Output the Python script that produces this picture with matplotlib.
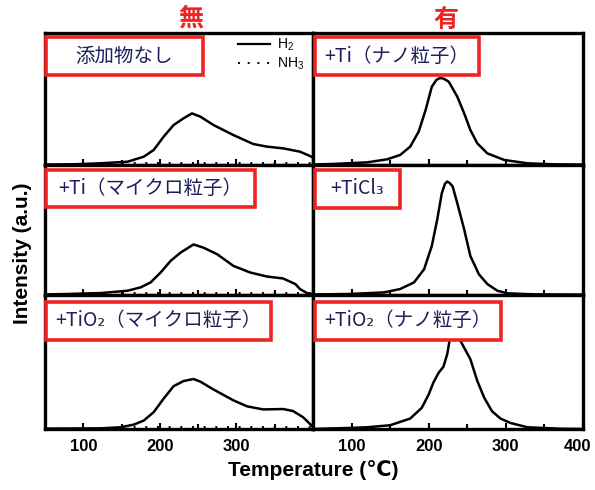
import matplotlib
matplotlib.use("Agg")
import matplotlib.pyplot as plt
from matplotlib.patches import Rectangle
from matplotlib.lines import Line2D
import matplotlib.transforms as mtransforms

# ---------------- data ----------------
col_titles = ["無", "有"]
panel_labels = [["添加物なし", "+Ti（ナノ粒子）"],
                ["+Ti（マイクロ粒子）", "+TiCl₃"],
                ["+TiO₂（マイクロ粒子）", "+TiO₂（ナノ粒子）"]]

# row 1 left: no additive
t_r1l = [50, 90, 123, 158, 179, 192, 205, 218, 231, 242, 253, 270, 296, 322, 340, 361, 383, 398, 400]
h_r1l = [0.003, 0.006, 0.013, 0.025, 0.063, 0.114, 0.215, 0.303, 0.354, 0.391, 0.366, 0.303, 0.227, 0.159, 0.139, 0.126, 0.101, 0.063, 0.055]
# row 1 right: +Ti nano
t_r1r = [50, 76, 120, 146, 163, 176, 187, 196, 204, 210, 215, 220, 226, 237, 246, 254, 263, 276, 298, 328, 363, 400]
h_r1r = [0.004, 0.008, 0.020, 0.043, 0.076, 0.139, 0.253, 0.417, 0.593, 0.645, 0.660, 0.652, 0.631, 0.518, 0.391, 0.265, 0.164, 0.088, 0.038, 0.013, 0.005, 0.003]
# row 2 left: +Ti micro
t_r2l = [50, 80, 123, 158, 175, 188, 201, 214, 227, 244, 257, 275, 296, 318, 340, 361, 377, 383, 392, 398, 400]
h_r2l = [0.004, 0.008, 0.015, 0.033, 0.059, 0.097, 0.173, 0.262, 0.326, 0.389, 0.364, 0.313, 0.224, 0.173, 0.142, 0.127, 0.084, 0.046, 0.015, 0.008, 0.008]
# row 2 right: +TiCl3
t_r2r = [50, 98, 142, 163, 181, 194, 204, 211, 217, 221, 224, 227, 231, 237, 246, 254, 265, 276, 289, 302, 337, 400]
h_r2r = [0.004, 0.008, 0.020, 0.046, 0.097, 0.198, 0.377, 0.580, 0.784, 0.855, 0.873, 0.862, 0.835, 0.707, 0.504, 0.300, 0.160, 0.084, 0.033, 0.013, 0.005, 0.003]
# row 3 left: +TiO2 micro
t_r3l = [50, 123, 149, 166, 179, 192, 205, 218, 231, 244, 253, 270, 296, 314, 335, 361, 374, 387, 396, 400]
h_r3l = [0.003, 0.005, 0.013, 0.033, 0.063, 0.126, 0.227, 0.320, 0.358, 0.373, 0.353, 0.295, 0.214, 0.169, 0.146, 0.149, 0.134, 0.088, 0.038, 0.015]
# row 3 right: +TiO2 nano
t_r3r = [50, 59, 98, 120, 150, 176, 191, 200, 206, 213, 219, 224, 227, 231, 234, 237, 241, 254, 263, 272, 282, 293, 306, 328, 371, 400]
h_r3r = [0.0, 0.002, 0.008, 0.013, 0.028, 0.078, 0.158, 0.258, 0.346, 0.421, 0.464, 0.559, 0.659, 0.705, 0.720, 0.705, 0.659, 0.521, 0.358, 0.233, 0.133, 0.078, 0.045, 0.013, 0.002, 0.0]

# NH3 (flat at baseline)
t_nh3 = [150, 400]
h_nh3 = [0.018, 0.018]

curves = [[(t_r1l, h_r1l), (t_r1r, h_r1r)],
          [(t_r2l, h_r2l), (t_r2r, h_r2r)],
          [(t_r3l, h_r3l), (t_r3r, h_r3r)]]

xticks_major = [100, 200, 300, 400]
xticks_minor = [50, 150, 250, 350]

# ---------------- style ----------------
W, H = 595, 490
fig = plt.figure(figsize=(W / 100, H / 100), dpi=100)
plt.rcParams['font.family'] = ['Liberation Sans', 'DejaVu Sans']
plt.rcParams['mathtext.default'] = 'regular'

RED = '#ee2424'
NAVY = '#1f1f5c'

def fig_rect(px0, py0, px1, py1):
    return [px0 / W, 1 - py1 / H, (px1 - px0) / W, (py1 - py0) / H]

col_x = [(45, 313), (313, 583)]
row_y = [(33, 165), (165, 295), (295, 429)]

axes = []
for r in range(3):
    for c in range(2):
        ax = fig.add_axes(fig_rect(col_x[c][0], row_y[r][0], col_x[c][1], row_y[r][1]))
        t, h = curves[r][c]
        ax.plot(t, h, color='black', lw=1.8, solid_joinstyle='round')
        if c == 0:
            ax.plot(t_nh3, h_nh3, color='black', lw=1.4, linestyle=(0, (1, 5)))
        ax.set_xlim(50, 400)
        ax.set_ylim(0, 1)
        ax.set_yticks([])
        ax.set_xticks(xticks_major)
        ax.set_xticks(xticks_minor, minor=True)
        ax.tick_params(axis='x', which='both', direction='in', length=4.5, width=1.5,
                       pad=7, labelsize=12)
        ax.tick_params(axis='x', which='minor', length=3.5)
        for s in ax.spines.values():
            s.set_linewidth(2.4)
            s.set_color('black')
        if r < 2:
            ax.set_xticklabels([])
        else:
            labs = [str(v) for v in xticks_major]
            if c == 0:
                labs[-1] = ''
            ax.set_xticklabels(labs, fontweight='bold')
            if c == 1:
                lbl = ax.get_xticklabels()[-1]
                lbl.set_transform(lbl.get_transform() +
                                  mtransforms.ScaledTranslation(-5 / 100, 0, fig.dpi_scale_trans))
        axes.append(ax)

# label boxes (line-centre pixel coordinates)
boxes = [[(46, 37.5, 202.5, 75.5), (314.5, 37.5, 479, 75)],
         [(46, 170, 255, 207), (314.5, 170, 400, 207.5)],
         [(46, 301.5, 271, 339.5), (314.5, 301.5, 501, 339.5)]]
for r in range(3):
    for c in range(2):
        x0, y0, x1, y1 = boxes[r][c]
        rect = Rectangle((x0 / W, 1 - y1 / H), (x1 - x0) / W, (y1 - y0) / H,
                         transform=fig.transFigure, facecolor='white',
                         edgecolor=RED, linewidth=2.6, zorder=5)
        fig.add_artist(rect)
        fig.text((x0 + x1) / 2 / W, 1 - (y0 + y1) / 2 / H, panel_labels[r][c],
                 ha='center', va='center', fontsize=14, color=NAVY,
                 family=['Noto Sans CJK JP', 'DejaVu Sans'], zorder=6)

# column titles
fig.text(191 / W, 1 - 19 / H, col_titles[0], ha='center', va='center', fontsize=18,
         fontweight='bold', color=RED, family=['Noto Sans CJK JP', 'DejaVu Sans'])
fig.text(446 / W, 1 - 20 / H, col_titles[1], ha='center', va='center', fontsize=18,
         fontweight='bold', color=RED, family=['Noto Sans CJK JP', 'DejaVu Sans'])

# legend in first panel
fig.add_artist(Line2D([238 / W, 270 / W], [1 - 44 / H, 1 - 44 / H], color='black',
                      lw=1.6, transform=fig.transFigure))
fig.add_artist(Line2D([238 / W, 270 / W], [1 - 63 / H, 1 - 63 / H], color='black',
                      lw=1.4, linestyle=(0, (1, 4)), transform=fig.transFigure))
fig.text(277 / W, 1 - 45 / H, 'H$_2$', ha='left', va='center', fontsize=10)
fig.text(277 / W, 1 - 64 / H, 'NH$_3$', ha='left', va='center', fontsize=10)

# axis titles
fig.text(313 / W, 1 - 470 / H, 'Temperature (℃)', ha='center', va='center',
         fontsize=15, fontweight='bold')
fig.text(23 / W, 1 - 253 / H, 'Intensity (a.u.)', ha='center', va='center',
         fontsize=15, fontweight='bold', rotation=90)

fig.savefig('out.png', dpi=100)
